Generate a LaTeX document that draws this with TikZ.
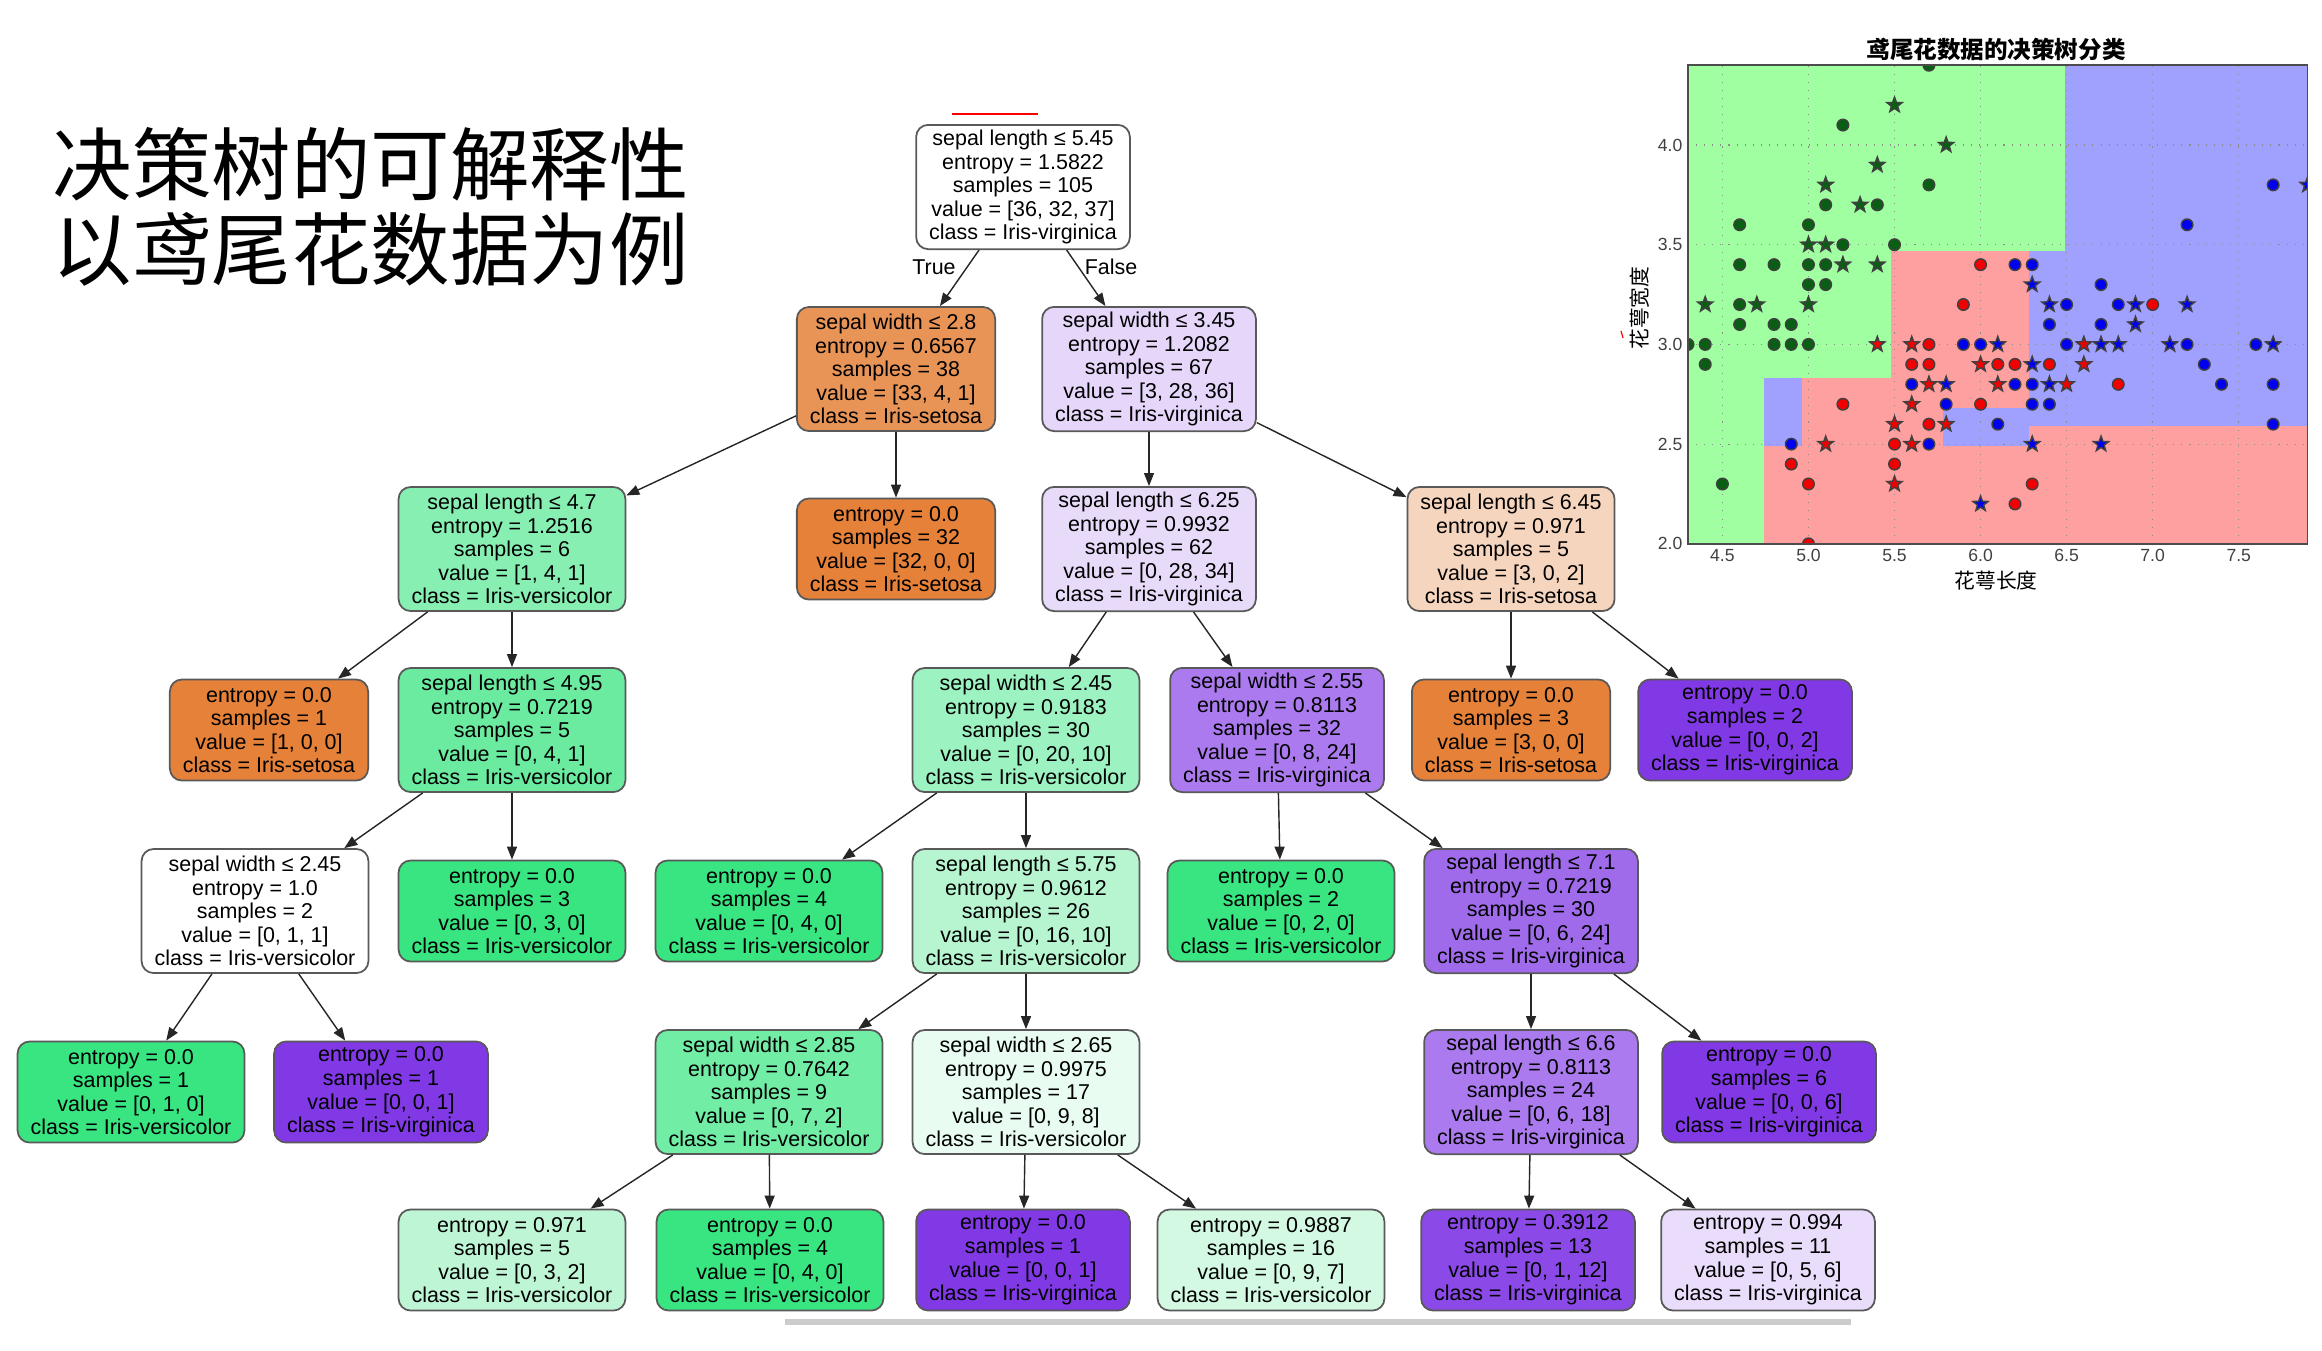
\documentclass[tikz,border=0pt]{standalone}
\usepackage{fontspec}
\setmainfont{Liberation Sans}
\newfontfamily\cjk{Noto Sans CJK SC}
\usepackage{tikz}
\usetikzlibrary{arrows.meta}
\definecolor{setosa}{HTML}{E58139}
\definecolor{versic}{HTML}{39E581}
\definecolor{virgin}{HTML}{8139E5}
\definecolor{bggreen}{HTML}{A0FFA0}
\definecolor{bgred}{HTML}{FFA0A0}
\definecolor{bgblue}{HTML}{A0A0FF}
\definecolor{ptgreen}{HTML}{085E12}
\definecolor{ptred}{HTML}{F00000}
\definecolor{ptblue}{HTML}{0000F0}
\newcommand{\starmark}{+(90:0.08cm) -- +(126:0.033cm) -- +(162:0.08cm) -- +(198:0.033cm) -- +(234:0.08cm) -- +(270:0.033cm) -- +(306:0.08cm) -- +(342:0.033cm) -- +(18:0.08cm) -- +(54:0.033cm) -- cycle}

\begin{document}
\begin{tikzpicture}[
  x=0.01cm, y=-0.01cm,
  tnode/.style={draw=black!65, line width=0.5pt, rounded corners=0.12cm, align=center,
    inner xsep=0.13cm, inner ysep=0.05cm, font=\fontsize{6.1}{6.7}\selectfont},
  split/.style={tnode, fill=#1, minimum height=1.24cm},
  split/.default=white,
  leaf/.style={tnode, fill=#1, minimum height=1.01cm},
  arr/.style={-{Triangle[length=0.13cm,width=0.1cm]}, line width=0.4pt, black!85},
  branch/.style={font=\fontsize{6.1}{6.7}\selectfont, inner sep=0},
  dot/.style={draw=black!75, line width=0.4pt},
  ticklab/.style={font=\fontsize{5}{5}\selectfont, text=black!75, inner sep=0.02cm}
]
  \useasboundingbox (0,0) rectangle (2322,1350);

  % title
  \node[anchor=base west, inner sep=0, font=\cjk\fontsize{22.6}{24}\selectfont] (title1) at (52,194) {决策树的可解释性};
  \node[anchor=base west, inner sep=0, font=\cjk\fontsize{22.6}{24}\selectfont] (title2) at (52,279) {以鸢尾花数据为例};
  \draw[red, line width=0.02cm] (952,114) -- (1038,114);

  % level 0-1
  \node[split] (root) at (1023,187) {sepal length ≤ 5.45\\entropy = 1.5822\\samples = 105\\value = [36, 32, 37]\\class = Iris-virginica};
  \node[split=setosa!85!white] (sw28) at (896,369) {sepal width ≤ 2.8\\entropy = 0.6567\\samples = 38\\value = [33, 4, 1]\\class = Iris-setosa};
  \node[split=virgin!20!white] (sw345) at (1149,369) {sepal width ≤ 3.45\\entropy = 1.2082\\samples = 67\\value = [3, 28, 36]\\class = Iris-virginica};
  \node[branch] (ltrue) at (934,267) {True};
  \node[branch] (lfalse) at (1111,267) {False};

  % level 2
  \node[split=versic!60!white] (sl47) at (512,549) {sepal length ≤ 4.7\\entropy = 1.2516\\samples = 6\\value = [1, 4, 1]\\class = Iris-versicolor};
  \node[leaf=setosa] (set32) at (896,549) {entropy = 0.0\\samples = 32\\value = [32, 0, 0]\\class = Iris-setosa};
  \node[split=virgin!18!white] (sl625) at (1149,549) {sepal length ≤ 6.25\\entropy = 0.9932\\samples = 62\\value = [0, 28, 34]\\class = Iris-virginica};
  \node[split=setosa!33!white] (sl645) at (1511,549) {sepal length ≤ 6.45\\entropy = 0.971\\samples = 5\\value = [3, 0, 2]\\class = Iris-setosa};

  % level 3
  \node[leaf=setosa] (set1) at (269,730) {entropy = 0.0\\samples = 1\\value = [1, 0, 0]\\class = Iris-setosa};
  \node[split=versic!75!white] (sl495) at (512,730) {sepal length ≤ 4.95\\entropy = 0.7219\\samples = 5\\value = [0, 4, 1]\\class = Iris-versicolor};
  \node[split=versic!50!white] (sw245b) at (1026,730) {sepal width ≤ 2.45\\entropy = 0.9183\\samples = 30\\value = [0, 20, 10]\\class = Iris-versicolor};
  \node[split=virgin!67!white] (sw255) at (1277,730) {sepal width ≤ 2.55\\entropy = 0.8113\\samples = 32\\value = [0, 8, 24]\\class = Iris-virginica};
  \node[leaf=setosa] (set3) at (1511,730) {entropy = 0.0\\samples = 3\\value = [3, 0, 0]\\class = Iris-setosa};
  \node[leaf=virgin] (vir2) at (1745,730) {entropy = 0.0\\samples = 2\\value = [0, 0, 2]\\class = Iris-virginica};

  % level 4
  \node[split] (sw245a) at (255,911) {sepal width ≤ 2.45\\entropy = 1.0\\samples = 2\\value = [0, 1, 1]\\class = Iris-versicolor};
  \node[leaf=versic] (ver3) at (512,911) {entropy = 0.0\\samples = 3\\value = [0, 3, 0]\\class = Iris-versicolor};
  \node[leaf=versic] (ver4a) at (769,911) {entropy = 0.0\\samples = 4\\value = [0, 4, 0]\\class = Iris-versicolor};
  \node[split=versic!37!white] (sl575) at (1026,911) {sepal length ≤ 5.75\\entropy = 0.9612\\samples = 26\\value = [0, 16, 10]\\class = Iris-versicolor};
  \node[leaf=versic] (ver2) at (1281,911) {entropy = 0.0\\samples = 2\\value = [0, 2, 0]\\class = Iris-versicolor};
  \node[split=virgin!75!white] (sl71) at (1531,911) {sepal length ≤ 7.1\\entropy = 0.7219\\samples = 30\\value = [0, 6, 24]\\class = Iris-virginica};

  % level 5
  \node[leaf=versic] (ver1) at (131,1092) {entropy = 0.0\\samples = 1\\value = [0, 1, 0]\\class = Iris-versicolor};
  \node[leaf=virgin] (vir1a) at (381,1092) {entropy = 0.0\\samples = 1\\value = [0, 0, 1]\\class = Iris-virginica};
  \node[split=versic!71!white] (sw285) at (769,1092) {sepal width ≤ 2.85\\entropy = 0.7642\\samples = 9\\value = [0, 7, 2]\\class = Iris-versicolor};
  \node[split=versic!11!white] (sw265) at (1026,1092) {sepal width ≤ 2.65\\entropy = 0.9975\\samples = 17\\value = [0, 9, 8]\\class = Iris-versicolor};
  \node[split=virgin!67!white] (sl66) at (1531,1092) {sepal length ≤ 6.6\\entropy = 0.8113\\samples = 24\\value = [0, 6, 18]\\class = Iris-virginica};
  \node[leaf=virgin] (vir6) at (1769,1092) {entropy = 0.0\\samples = 6\\value = [0, 0, 6]\\class = Iris-virginica};

  % level 6
  \node[leaf=versic!33!white] (ver5) at (512,1260) {entropy = 0.971\\samples = 5\\value = [0, 3, 2]\\class = Iris-versicolor};
  \node[leaf=versic] (ver4b) at (770,1260) {entropy = 0.0\\samples = 4\\value = [0, 4, 0]\\class = Iris-versicolor};
  \node[leaf=virgin] (vir1b) at (1023,1260) {entropy = 0.0\\samples = 1\\value = [0, 0, 1]\\class = Iris-virginica};
  \node[leaf=versic!22!white] (ver16) at (1271,1260) {entropy = 0.9887\\samples = 16\\value = [0, 9, 7]\\class = Iris-versicolor};
  \node[leaf=virgin!92!white] (vir13) at (1528,1260) {entropy = 0.3912\\samples = 13\\value = [0, 1, 12]\\class = Iris-virginica};
  \node[leaf=virgin!17!white] (vir11) at (1768,1260) {entropy = 0.994\\samples = 11\\value = [0, 5, 6]\\class = Iris-virginica};

  \draw[black!20, line width=0.06cm] (785,1322) -- (1851,1322);

  \draw[arr] (root) -- (sw28);
  \draw[arr] (root) -- (sw345);
  \draw[arr] (sw28) -- (sl47);
  \draw[arr] (sw28) -- (set32);
  \draw[arr] (sw345) -- (sl625);
  \draw[arr] (sw345) -- (sl645);
  \draw[arr] (sl47) -- (set1);
  \draw[arr] (sl47) -- (sl495);
  \draw[arr] (sl625) -- (sw245b);
  \draw[arr] (sl625) -- (sw255);
  \draw[arr] (sl645) -- (set3);
  \draw[arr] (sl645) -- (vir2);
  \draw[arr] (sl495) -- (sw245a);
  \draw[arr] (sl495) -- (ver3);
  \draw[arr] (sw245b) -- (ver4a);
  \draw[arr] (sw245b) -- (sl575);
  \draw[arr] (sw255) -- (ver2);
  \draw[arr] (sw255) -- (sl71);
  \draw[arr] (sw245a) -- (ver1);
  \draw[arr] (sw245a) -- (vir1a);
  \draw[arr] (sl575) -- (sw285);
  \draw[arr] (sl575) -- (sw265);
  \draw[arr] (sl71) -- (sl66);
  \draw[arr] (sl71) -- (vir6);
  \draw[arr] (sw285) -- (ver5);
  \draw[arr] (sw285) -- (ver4b);
  \draw[arr] (sw265) -- (vir1b);
  \draw[arr] (sw265) -- (ver16);
  \draw[arr] (sl66) -- (vir13);
  \draw[arr] (sl66) -- (vir11);

  % scatter plot of the decision regions
  \node[font=\cjk\bfseries\fontsize{6.7}{7}\selectfont, inner sep=0] (ptitle) at (1996,49) {鸢尾花数据的决策树分类};
  \node[font=\cjk\fontsize{5.9}{6}\selectfont, inner sep=0] (xlab) at (1996,581) {花萼长度};
  \node[font=\cjk\fontsize{5.9}{6}\selectfont, inner sep=0, rotate=90] (ylab) at (1640,308) {花萼宽度};
  \draw[red, line width=0.012cm] (1621,331) -- (1623,338);

  \begin{scope}[xshift=9.474cm, yshift=-9.421cm, x=1.72cm, y=1.993cm]
    \fill[bggreen] (4.3,2) rectangle (7.9,4.4);
    \fill[bgred] (4.74,2) rectangle (4.96,2.49);
    \fill[bgblue] (4.74,2.49) rectangle (4.96,2.83);
    \fill[bgred] (4.96,2) rectangle (5.48,2.83);
    \fill[bgred] (5.48,2) rectangle (6.28,3.47);
    \fill[bgblue] (5.78,2.49) rectangle (6.28,2.68);
    \fill[bgred] (6.28,2) rectangle (7.9,2.59);
    \fill[bgblue] (6.28,2.59) rectangle (7.9,3.47);
    \fill[bgblue] (6.49,3.47) rectangle (7.9,4.4);
    \foreach \t in {4.5,5,5.5,6,6.5,7,7.5}
      \draw[black!45, dotted, line width=0.3pt] (\t,2) -- (\t,4.4);
    \foreach \t in {2.5,3,3.5,4}
      \draw[black!45, dotted, line width=0.3pt] (4.3,\t) -- (7.9,\t);
    \foreach \t [count=\i] in {4.5,5.0,5.5,6.0,6.5,7.0,7.5}
      \node[ticklab, anchor=north, yshift=-0.03cm] (xt\i) at (\t,2) {\t};
    \foreach \t [count=\i] in {2.0,2.5,3.0,3.5,4.0}
      \node[ticklab, anchor=east, xshift=-0.03cm] (yt\i) at (4.3,\t) {\t};

    \begin{scope}
      \clip (4.3,2) rectangle (7.9,4.4);
      % circles
      \foreach \px/\py in {5.7/4.4, 5.2/4.1, 5.7/3.8, 5.1/3.7, 5.4/3.7, 4.6/3.6, 5.0/3.6, 5.2/3.5, 5.5/3.5,
          4.6/3.4, 4.8/3.4, 5.0/3.4, 5.1/3.4, 5.0/3.3, 5.1/3.3, 4.6/3.2, 4.6/3.1, 4.8/3.1, 4.9/3.1,
          4.3/3.0, 4.4/3.0, 4.8/3.0, 4.9/3.0, 5.0/3.0, 4.4/2.9, 4.5/2.3}
        \filldraw[dot, fill=ptgreen] (\px,\py) circle[radius=0.058cm];
      \foreach \px/\py in {6.0/3.4, 5.9/3.2, 7.0/3.2, 5.7/3.0, 5.6/2.9, 5.7/2.9, 6.1/2.9, 6.2/2.9, 6.4/2.9,
          6.8/2.8, 5.2/2.7, 6.0/2.7, 5.7/2.6, 5.5/2.5, 4.9/2.4, 5.5/2.4, 5.0/2.3, 6.3/2.3, 6.2/2.2, 5.0/2.0}
        \filldraw[dot, fill=ptred] (\px,\py) circle[radius=0.058cm];
      \foreach \px/\py in {7.7/3.8, 7.2/3.6, 6.2/3.4, 6.3/3.4, 6.7/3.3, 6.5/3.2, 6.8/3.2, 6.4/3.1, 6.7/3.1,
          5.9/3.0, 6.0/3.0, 6.5/3.0, 7.2/3.0, 7.6/3.0, 7.3/2.9, 5.6/2.8, 6.2/2.8, 6.3/2.8, 7.4/2.8,
          7.7/2.8, 5.8/2.7, 6.3/2.7, 6.4/2.7, 6.1/2.6, 7.7/2.6, 4.9/2.5, 5.7/2.5}
        \filldraw[dot, fill=ptblue] (\px,\py) circle[radius=0.058cm];
      % stars
      \foreach \px/\py in {5.5/4.2, 5.8/4.0, 5.4/3.9, 5.1/3.8, 5.3/3.7, 5.0/3.5, 5.1/3.5, 5.2/3.4, 5.4/3.4,
          4.4/3.2, 4.7/3.2, 5.0/3.2}
        \filldraw[dot, fill=ptgreen] (\px,\py) \starmark;
      \foreach \px/\py in {5.4/3.0, 5.6/3.0, 6.6/3.0, 6.0/2.9, 6.6/2.9, 5.7/2.8, 6.1/2.8, 6.5/2.8, 5.6/2.7,
          5.5/2.6, 5.8/2.6, 5.1/2.5, 5.6/2.5, 5.5/2.3}
        \filldraw[dot, fill=ptred] (\px,\py) \starmark;
      \foreach \px/\py in {7.9/3.8, 6.3/3.3, 6.4/3.2, 6.9/3.2, 7.2/3.2, 6.9/3.1, 6.1/3.0, 6.7/3.0, 6.8/3.0,
          7.1/3.0, 7.7/3.0, 6.3/2.9, 5.8/2.8, 6.4/2.8, 6.3/2.5, 6.7/2.5, 6.0/2.2}
        \filldraw[dot, fill=ptblue] (\px,\py) \starmark;
    \end{scope}
    \draw[black!70, line width=0.5pt] (4.3,2) rectangle (7.9,4.4);
  \end{scope}
\end{tikzpicture}
\end{document}
